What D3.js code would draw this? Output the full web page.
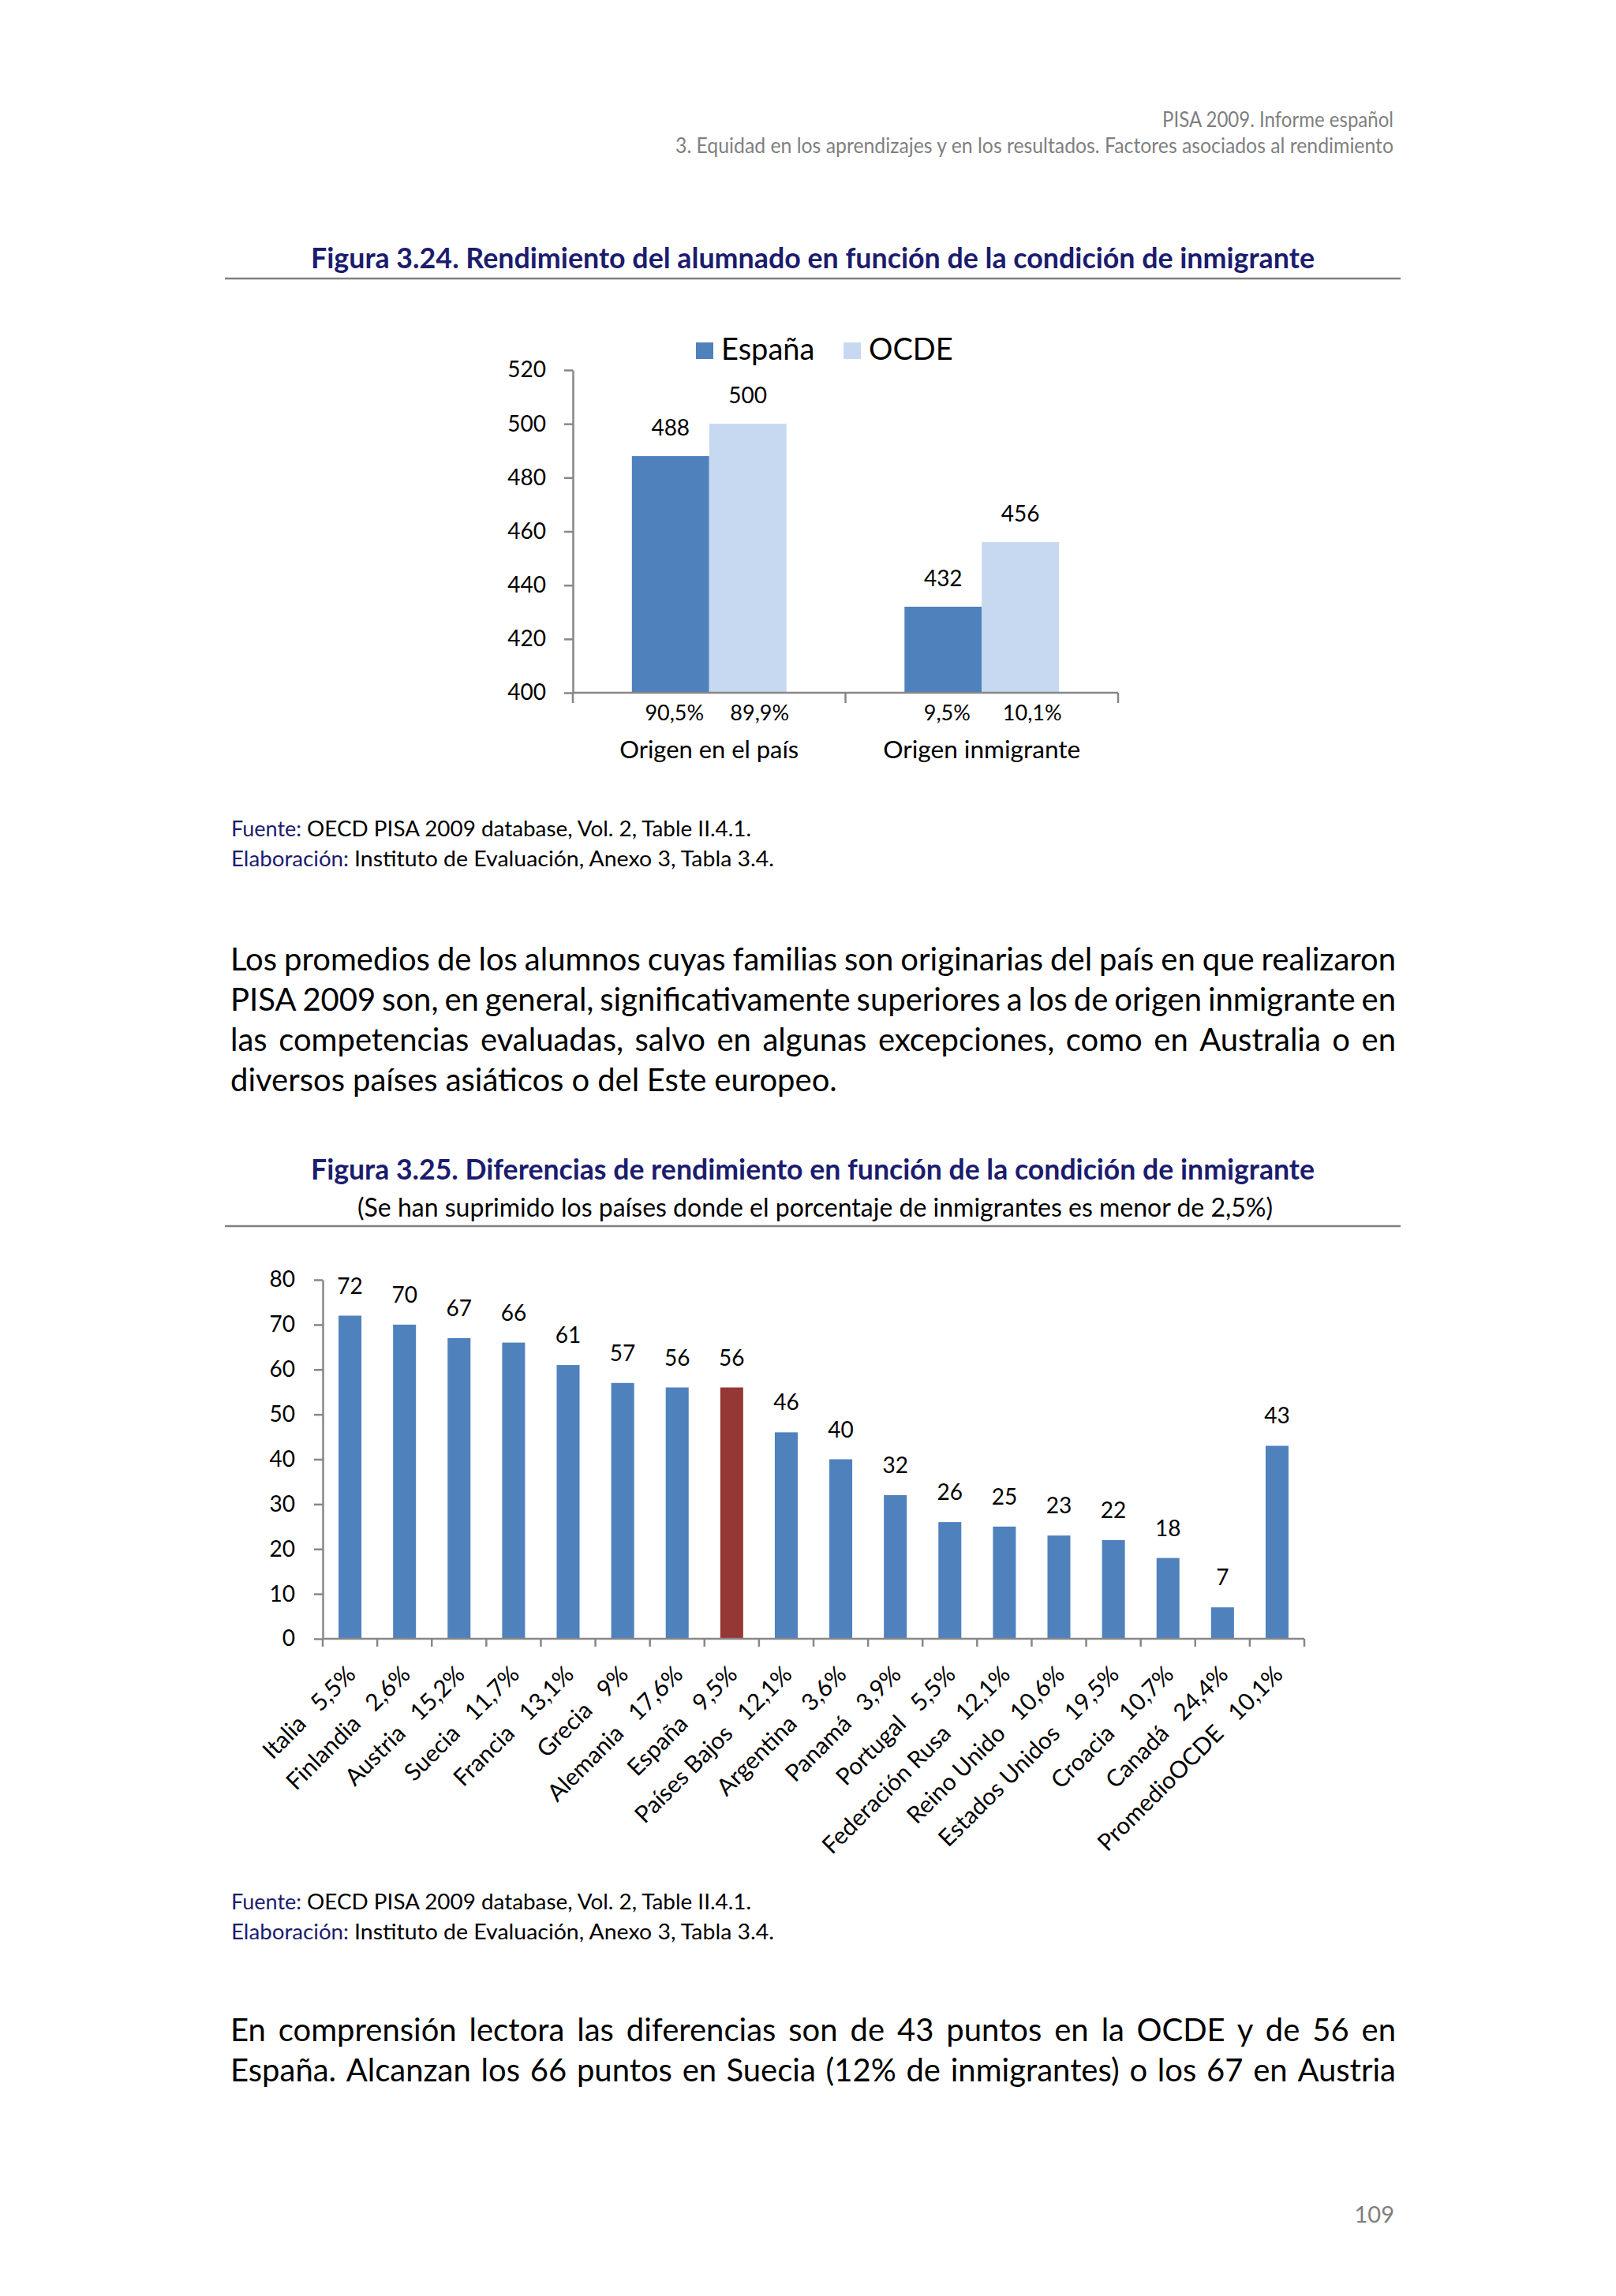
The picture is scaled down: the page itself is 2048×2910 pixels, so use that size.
<!DOCTYPE html>
<html>
<head>
<meta charset="utf-8">
<script src="https://cdn.jsdelivr.net/npm/d3@7"></script>
<style>
  body { margin: 0; background: #fff; }
  text { font-family: Lato, "Open Sans", sans-serif; }
</style>
</head>
<body>
<svg id="page" width="2048" height="2910"></svg>
<script>
// ---- datos figura 3.24
const grupos = ["Origen en el país", "Origen inmigrante"];
const series = ["España", "OCDE"];
const espana = [488, 432];
const ocde = [500, 456];
const pctEspana = ["90,5%", "9,5%"];
const pctOcde = ["89,9%", "10,1%"];
const ticks24 = [400, 420, 440, 460, 480, 500, 520];

// ---- datos figura 3.25
const paises = ["Italia", "Finlandia", "Austria", "Suecia", "Francia", "Grecia", "Alemania", "España",
  "Países Bajos", "Argentina", "Panamá", "Portugal", "Federación Rusa", "Reino Unido",
  "Estados Unidos", "Croacia", "Canadá", "PromedioOCDE"];
const pctInmigrantes = ["5,5%", "2,6%", "15,2%", "11,7%", "13,1%", "9%", "17,6%", "9,5%",
  "12,1%", "3,6%", "3,9%", "5,5%", "12,1%", "10,6%", "19,5%", "10,7%", "24,4%", "10,1%"];
const diferencias = [72, 70, 67, 66, 61, 57, 56, 56, 46, 40, 32, 26, 25, 23, 22, 18, 7, 43];
const ticks25 = [0, 10, 20, 30, 40, 50, 60, 70, 80];

const parrafo1 = [
  "Los promedios de los alumnos cuyas familias son originarias del país en que realizaron",
  "PISA 2009 son, en general,  significativamente superiores a los de origen inmigrante en",
  "las competencias evaluadas, salvo en algunas excepciones, como en Australia o en",
  "diversos países asiáticos o del Este europeo."
];
const parrafo2 = [
  "En comprensión lectora las diferencias son de 43 puntos en la OCDE y de 56 en",
  "España. Alcanzan los 66 puntos en Suecia (12% de inmigrantes) o los 67 en Austria"
];

const azul = "#4f81bd", azulClaro = "#c6d9f1", rojo = "#953735";
const navy = "#1c1c6e", gris = "#878787";

const svg = d3.select("#page");
svg.append("rect").attr("width", 2048).attr("height", 2910).attr("fill", "#fff");

// ---- cabecera
svg.append("text").attr("x", 1766).attr("y", 161).attr("text-anchor", "end")
  .attr("font-size", 26).attr("fill", "#7f7f7f")
  .attr("textLength", 293).attr("lengthAdjust", "spacingAndGlyphs")
  .text("PISA 2009. Informe español");
svg.append("text").attr("x", 1766).attr("y", 194).attr("text-anchor", "end")
  .attr("font-size", 26).attr("fill", "#7f7f7f")
  .attr("textLength", 910).attr("lengthAdjust", "spacingAndGlyphs")
  .text("3. Equidad en los aprendizajes y en los resultados. Factores asociados al rendimiento");

function titulo(txt, y, lineY) {
  svg.append("text").attr("x", 394).attr("y", y)
    .attr("font-size", 37).attr("font-weight", "bold").attr("fill", navy)
    .attr("textLength", 1272).attr("lengthAdjust", "spacingAndGlyphs")
    .text(txt);
  svg.append("line").attr("x1", 285).attr("x2", 1775).attr("y1", lineY).attr("y2", lineY)
    .attr("stroke", "#808080").attr("stroke-width", 2.5);
}

function fuente(y) {
  const filas = [["Fuente:", "OECD PISA 2009 database, Vol. 2, Table II.4.1.", 89, 389, 563],
                 ["Elaboración:", "Instituto de Evaluación, Anexo 3, Tabla 3.4.", 149, 449, 532]];
  filas.forEach((f, i) => {
    const yy = y + i * 38;
    svg.append("text").attr("x", 293).attr("y", yy).attr("font-size", 27).attr("fill", navy)
      .attr("textLength", f[2]).attr("lengthAdjust", "spacingAndGlyphs").text(f[0]);
    svg.append("text").attr("x", f[3]).attr("y", yy).attr("font-size", 27).attr("fill", "#000")
      .attr("textLength", f[4]).attr("lengthAdjust", "spacingAndGlyphs").text(f[1]);
  });
}

function linea(txt, y, justificar) {
  const t = svg.append("text").attr("y", y).attr("font-size", 40).attr("fill", "#000");
  const palabras = txt.split(" ").filter(w => w.length);
  const spans = palabras.map(w => t.append("tspan").text(w));
  const anchos = spans.map(s => s.node().getComputedTextLength());
  const total = d3.sum(anchos);
  let gap = justificar ? (1477 - total) / (palabras.length - 1) : 10;
  let cx = 292;
  spans.forEach((s, i) => { s.attr("x", cx); cx += anchos[i] + gap; });
}

// ================= Figura 3.24
titulo("Figura 3.24. Rendimiento del alumnado en función de la condición de inmigrante", 340, 353);

const x0 = d3.scaleBand().domain(grupos).range([726, 1417]).paddingInner(0.433).paddingOuter(0.2165);
const x1 = d3.scaleBand().domain(series).range([0, x0.bandwidth()]);
const y24 = d3.scaleLinear().domain([400, 520]).range([878, 469]);
const color24 = d3.scaleOrdinal().domain(series).range([azul, azulClaro]);

const filas24 = grupos.map((g, i) => ({ g, vals: [espana[i], ocde[i]], pcts: [pctEspana[i], pctOcde[i]] }));

const gr = svg.selectAll(".grupo").data(filas24).join("g")
  .attr("transform", d => `translate(${x0(d.g)},0)`);

gr.selectAll("rect").data(d => d.vals.map((v, j) => ({ s: series[j], v })))
  .join("rect")
  .attr("x", d => x1(d.s)).attr("width", x1.bandwidth())
  .attr("y", d => y24(d.v)).attr("height", d => y24(400) - y24(d.v))
  .attr("fill", d => color24(d.s));

gr.selectAll(".val").data(d => d.vals.map((v, j) => ({ s: series[j], v })))
  .join("text")
  .attr("x", d => x1(d.s) + x1.bandwidth() / 2).attr("y", d => y24(d.v) - 26)
  .attr("text-anchor", "middle").attr("font-size", 28).text(d => d.v);

gr.selectAll(".pct").data(d => d.pcts.map((p, j) => ({ s: series[j], p })))
  .join("text")
  .attr("x", d => x1(d.s) + x1.bandwidth() / 2 + (d.s === "España" ? 5 : 15)).attr("y", 913)
  .attr("text-anchor", "middle").attr("font-size", 27).text(d => d.p);

gr.append("text")
  .attr("x", x0.bandwidth() / 2).attr("y", 961).attr("text-anchor", "middle")
  .attr("font-size", 30)
  .attr("textLength", (d, i) => i === 0 ? 227 : 250).attr("lengthAdjust", "spacingAndGlyphs")
  .text(d => d.g);

const ejeY24 = svg.append("g").attr("transform", `translate(726,0)`)
  .call(d3.axisLeft(y24).tickValues(ticks24).tickSize(11).tickSizeOuter(0).tickPadding(23));
ejeY24.attr("font-family", null).attr("font-size", 28);
ejeY24.selectAll("path, line").attr("stroke", gris).attr("stroke-width", 2.5);
ejeY24.selectAll("text").attr("fill", "#000");

const lim24 = d3.range(grupos.length + 1).map(i => x0.range()[0] + i * x0.step());
svg.append("line").attr("x1", 726).attr("x2", 1417).attr("y1", y24(400)).attr("y2", y24(400))
  .attr("stroke", gris).attr("stroke-width", 2.5);
svg.selectAll(".tick24").data(lim24).join("line")
  .attr("x1", d => d).attr("x2", d => d).attr("y1", y24(400)).attr("y2", y24(400) + 13)
  .attr("stroke", gris).attr("stroke-width", 2.5);

const leyenda = svg.append("g").attr("transform", "translate(882,434)");
const items = leyenda.selectAll("g").data(series).join("g")
  .attr("transform", (d, i) => `translate(${i * 187},0)`);
items.append("rect").attr("width", 22).attr("height", 21).attr("fill", d => color24(d));
items.append("text").attr("x", 32).attr("y", 22).attr("font-size", 38).text(d => d);

fuente(1060);

// ---- texto
parrafo1.forEach((l, i) => linea(l, 1230 + i * 51, i < parrafo1.length - 1));

// ================= Figura 3.25
titulo("Figura 3.25. Diferencias de rendimiento en función de la condición de inmigrante", 1495, 1554);
svg.append("text").attr("x", 453).attr("y", 1542).attr("font-size", 33)
  .attr("textLength", 1160).attr("lengthAdjust", "spacingAndGlyphs")
  .text("(Se han suprimido los países donde el porcentaje de inmigrantes es menor de 2,5%)");

const xb = d3.scaleBand().domain(paises).range([409, 1653]).paddingInner(0.58).paddingOuter(0.29);
const y25 = d3.scaleLinear().domain([0, 80]).range([2077, 1622]);
const filas25 = paises.map((p, i) => ({ p, v: diferencias[i], pct: pctInmigrantes[i] }));

svg.selectAll(".bar25").data(filas25).join("rect")
  .attr("x", d => xb(d.p)).attr("width", xb.bandwidth())
  .attr("y", d => y25(d.v)).attr("height", d => y25(0) - y25(d.v))
  .attr("fill", d => d.p === "España" ? rojo : azul);

svg.selectAll(".val25").data(filas25).join("text")
  .attr("x", d => xb(d.p) + xb.bandwidth() / 2).attr("y", d => y25(d.v) - 28)
  .attr("text-anchor", "middle").attr("font-size", 28).text(d => d.v);

const ejeY25 = svg.append("g").attr("transform", "translate(409,0)")
  .call(d3.axisLeft(y25).tickValues(ticks25).tickSize(11).tickSizeOuter(0).tickPadding(24));
ejeY25.attr("font-family", null).attr("font-size", 28);
ejeY25.selectAll("path, line").attr("stroke", gris).attr("stroke-width", 2.5);
ejeY25.selectAll("text").attr("fill", "#000");

const lim25 = d3.range(paises.length + 1).map(i => xb.range()[0] + i * xb.step());
svg.append("line").attr("x1", 409).attr("x2", 1653).attr("y1", y25(0)).attr("y2", y25(0))
  .attr("stroke", gris).attr("stroke-width", 2.5);
svg.selectAll(".tick25").data(lim25).join("line")
  .attr("x1", d => d).attr("x2", d => d).attr("y1", y25(0)).attr("y2", y25(0) + 10)
  .attr("stroke", gris).attr("stroke-width", 2.5);

svg.selectAll(".lab25").data(filas25).join("text")
  .attr("transform", d => `translate(${xb(d.p) + xb.bandwidth() / 2 + 9},${y25(0) + 47}) rotate(-45)`)
  .attr("text-anchor", "end").attr("font-size", 30)
  .text(d => d.p + "\u00a0\u00a0\u00a0" + d.pct);

fuente(2420);

parrafo2.forEach((l, i) => linea(l, 2587 + i * 51, true));

// ---- número de página
svg.append("text").attr("x", 1767).attr("y", 2817).attr("text-anchor", "end")
  .attr("font-size", 29).attr("fill", "#7f7f7f").text("109");
</script>
</body>
</html>
